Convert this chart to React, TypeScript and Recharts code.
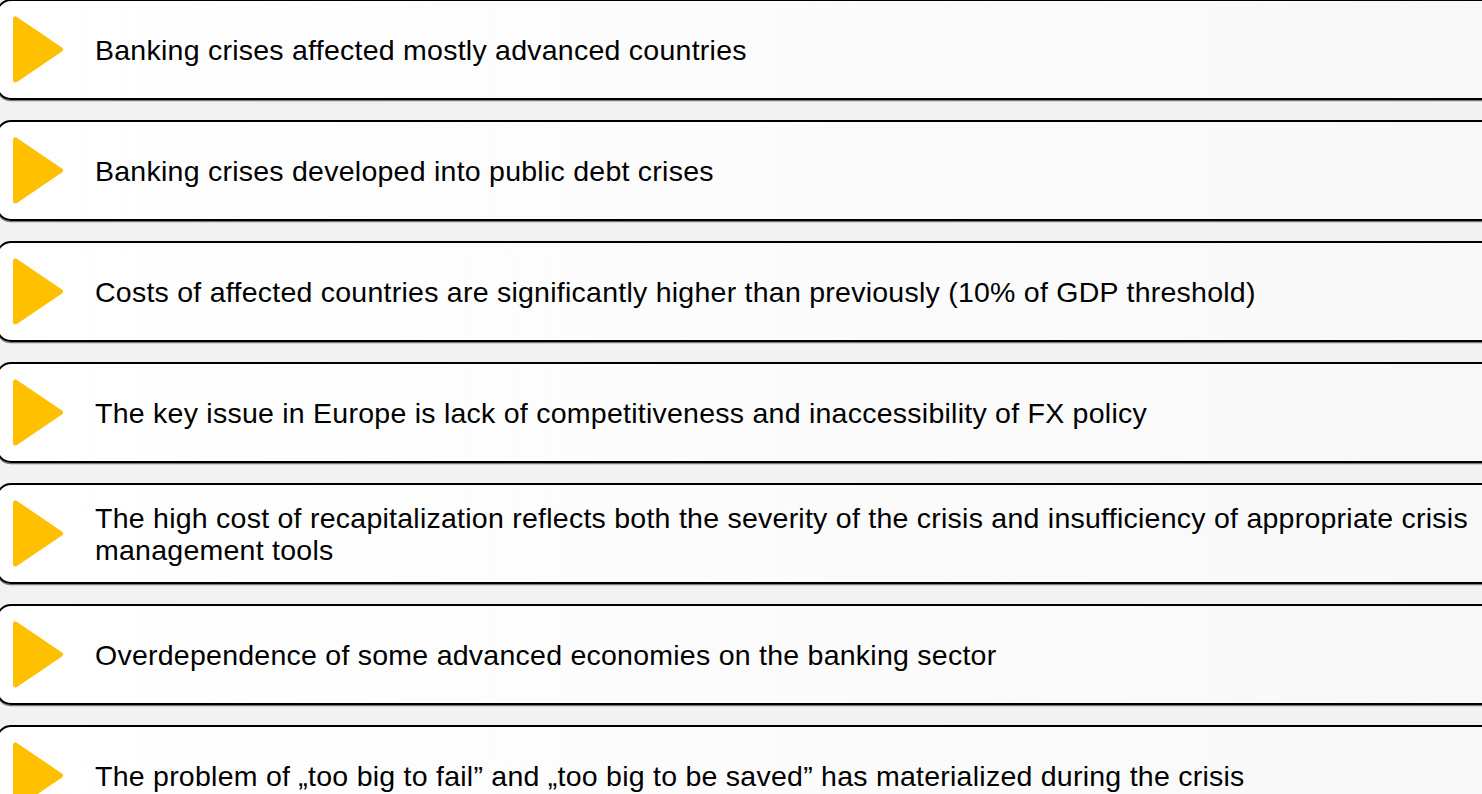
import React from 'react';
import { BarChart, Bar, XAxis, YAxis } from 'recharts';

const labels: string[] = [
  'Banking crises affected mostly advanced countries',
  'Banking crises developed into public debt crises',
  'Costs of affected countries are significantly higher than previously (10% of GDP threshold)',
  'The key issue in Europe is lack of competitiveness and inaccessibility of FX policy',
  'The high cost of recapitalization reflects both the severity of the crisis and insufficiency of appropriate crisis\nmanagement tools',
  'Overdependence of some advanced economies on the banking sector',
  'The problem of \u201Etoo big to fail\u201D and \u201Etoo big to be saved\u201D has materialized during the crisis',
];

const values: number[] = [1, 1, 1, 1, 1, 1, 1];

const data = labels.map((label, i) => ({ label, value: values[i] }));

const RowShape = (props: any) => {
  const { x, y, width, height, payload, index } = props;
  const cy = y + height / 2;
  const label: string = (payload && payload.label) || '';
  const lines = label.split('\n');
  const lh = 32;
  const firstBaseline = cy + 10 - ((lines.length - 1) * lh) / 2;
  const gid = `rowfill-${index}`;
  const tl = x + 18.5;
  const tip = x + 63.5;
  return (
    <g>
      <defs>
        <linearGradient id={gid} x1="0" y1="0" x2="1" y2="0">
          <stop offset="0%" stopColor="#ffffff" />
          <stop offset="100%" stopColor="#f8f8f8" />
        </linearGradient>
      </defs>
      <rect x={x} y={y + 1.5} width={width} height={height} rx={14} ry={14} fill="none" stroke="#7a7a7a" strokeWidth={1.5} />
      <rect x={x} y={y} width={width} height={height} rx={14} ry={14} fill={`url(#${gid})`} stroke="#000000" strokeWidth={2} />
      <polygon
        points={`${tl},${cy - 30.5} ${tl},${cy + 30.5} ${tip},${cy}`}
        fill="#FFC000"
        stroke="#FFC000"
        strokeWidth={5}
        strokeLinejoin="round"
      />
      <text
        x={x + 98}
        y={firstBaseline}
        fontFamily="'Liberation Sans', Arial, Helvetica, sans-serif"
        fontSize={28.5}
        letterSpacing={0.25}
        fill="#000000"
      >
        {lines.map((ln, i) => (
          <tspan key={i} x={x + 98} y={firstBaseline + i * lh}>
            {ln}
          </tspan>
        ))}
      </text>
    </g>
  );
};

export default function App() {
  return (
    <div style={{ position: 'fixed', left: 0, top: 0, width: 1482, height: 794, overflow: 'hidden', background: '#f2f2f2' }}>
      <div style={{ position: 'absolute', left: -3, top: -11.5 }}>
        <BarChart
          layout="vertical"
          width={1500}
          height={847}
          data={data}
          margin={{ top: 0, right: 0, bottom: 0, left: 0 }}
          barCategoryGap={0}
        >
          <XAxis type="number" domain={[0, 1]} hide />
          <YAxis type="category" dataKey="label" hide />
          <Bar dataKey="value" barSize={99} isAnimationActive={false} shape={<RowShape />} />
        </BarChart>
      </div>
    </div>
  );
}
